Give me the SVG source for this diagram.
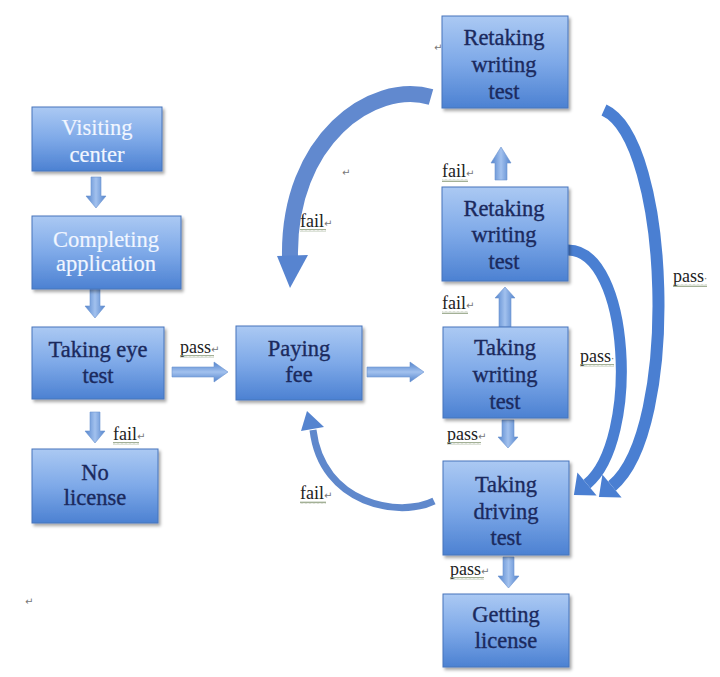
<svg xmlns="http://www.w3.org/2000/svg" width="720" height="677" viewBox="0 0 720 677">
<defs>
<linearGradient id="boxg" x1="0" y1="0" x2="0" y2="1">
<stop offset="0" stop-color="#abc9f3"/>
<stop offset="0.5" stop-color="#7ea9e8"/>
<stop offset="1" stop-color="#4c81d2"/>
</linearGradient>
<linearGradient id="vg" x1="0" y1="0" x2="1" y2="0">
<stop offset="0" stop-color="#5283cc"/>
<stop offset="0.5" stop-color="#a2c1ee"/>
<stop offset="1" stop-color="#5283cc"/>
</linearGradient>
<linearGradient id="hg" x1="0" y1="0" x2="0" y2="1">
<stop offset="0" stop-color="#5283cc"/>
<stop offset="0.5" stop-color="#a2c1ee"/>
<stop offset="1" stop-color="#5283cc"/>
</linearGradient>
<filter id="sh" x="-10%" y="-10%" width="125%" height="130%">
<feDropShadow dx="2" dy="2.5" stdDeviation="1.6" flood-color="#000" flood-opacity="0.35"/>
</filter>
<pattern id="sq" width="4" height="3" patternUnits="userSpaceOnUse">
<path d="M0,2.4 L1,0.6 L2,2.4 L3,0.6 L4,2.4" fill="none" stroke="#8a9a7a" stroke-width="0.8"/>
</pattern>
</defs>
<style>
.box{fill:url(#boxg);stroke:#4774bb;stroke-width:1;filter:url(#sh)}
.t{font-family:"Liberation Serif","Times New Roman",serif;font-size:22.5px;fill:#1b2a5e;stroke:#1b2a5e;stroke-width:0.35;text-anchor:middle}
.w{fill:#f3f7ff;stroke:#e6efff;stroke-width:0.2}
.lb{font-family:"Liberation Serif","Times New Roman",serif;font-size:18px;fill:#222}
.rt{font-family:"DejaVu Sans",sans-serif;font-size:10px;fill:#777;stroke:none}
.va{fill:url(#vg);stroke:#6b93d0;stroke-width:0.6}
.ha{fill:url(#hg);stroke:#6b93d0;stroke-width:0.6}
.cv{fill:none;stroke-linecap:butt}
.sqr{fill:url(#sq)}
</style>
<rect width="720" height="677" fill="#ffffff"/>

<g id="connectors">
<polygon class="va" points="91,177 101,177 101,196 106,196 96,208 86,196 91,196"/>
<polygon class="va" points="90,289 100,289 100,306 105,306 95,318 85,306 90,306"/>
<polygon class="va" points="90,412 100,412 100,431 105,431 95,443 85,431 90,431"/>
<polygon class="ha" points="172,367 214,367 214,362 228,372 214,382 214,377 172,377"/>
<polygon class="ha" points="367,367 410,367 410,362 424,372 410,382 410,377 367,377"/>
<polygon class="va" points="502,420 514,420 514,437 518,437 508,448 498,437 502,437"/>
<polygon class="va" points="503,557 514,557 514,576 519,576 508.5,588 498,576 503,576"/>
<polygon class="va" points="499,327 511,327 511,298 515,298 505,287 495,298 499,298"/>
<polygon class="va" points="495,180 507,180 507,163 511,163 501,147 491,163 495,163"/>
<g id="curve-fail-top">
<path class="cv" d="M431,97 C372,80 288,140 290,257" stroke="#6189cf" stroke-width="16"/>
<polygon points="277,256 308,255 290,288" fill="#5784d0"/>
</g>
<g id="curve-fail-driving">
<path class="cv" d="M434,501 C400,518 322,505 313,430" stroke="#5f88cc" stroke-width="7"/>
<polygon points="301,431 324,427 307,411" fill="#5584cf"/>
</g>
<g id="curve-pass-mid">
<path class="cv" d="M568,250 C630,250 640,440 587,484" stroke="#4a7fd2" stroke-width="11"/>
<polygon points="596.6,495.5 577.4,472.5 573.9,494.9" fill="#4a7fd2"/>
</g>
<g id="curve-pass-top">
<path class="cv" d="M604,110 C670,140 680,430 612,486" stroke="#4a7fd2" stroke-width="12"/>
<polygon points="621.6,497.5 602.4,474.5 598.9,496.9" fill="#4a7fd2"/>
</g>
</g>

<g id="labels">
<g><text class="lb" x="180" y="353">pass<tspan class="rt">↵</tspan></text><rect class="sqr" x="180" y="355" width="34" height="3"/></g>
<g><text class="lb" x="113" y="440">fail<tspan class="rt">↵</tspan></text><rect class="sqr" x="113" y="442" width="26" height="3"/></g>
<g><text class="lb" x="300" y="227">fail<tspan class="rt">↵</tspan></text><rect class="sqr" x="300" y="229" width="26" height="3"/></g>
<g><text class="lb" x="300" y="499">fail<tspan class="rt">↵</tspan></text><rect class="sqr" x="300" y="501" width="26" height="3"/></g>
<g><text class="lb" x="442" y="177">fail<tspan class="rt">↵</tspan></text><rect class="sqr" x="442" y="179" width="26" height="3"/></g>
<g><text class="lb" x="442" y="309">fail<tspan class="rt">↵</tspan></text><rect class="sqr" x="442" y="311" width="26" height="3"/></g>
<g><text class="lb" x="580" y="362">pass<tspan class="rt">·</tspan></text><rect class="sqr" x="580" y="364" width="34" height="3"/></g>
<g><text class="lb" x="673" y="282">pass<tspan class="rt">·</tspan></text><rect class="sqr" x="673" y="284" width="34" height="3"/></g>
<g><text class="lb" x="447" y="440">pass<tspan class="rt">↵</tspan></text><rect class="sqr" x="447" y="442" width="34" height="3"/></g>
<g><text class="lb" x="450" y="575">pass<tspan class="rt">↵</tspan></text><rect class="sqr" x="450" y="577" width="34" height="3"/></g>
<text class="rt" x="434" y="51">↵</text>
<text class="rt" x="342" y="176">↵</text>
<text class="rt" x="25" y="605">↵</text>
</g>

<g id="visiting"><rect class="box" x="32" y="107" width="130" height="64"/><text class="t w" x="97" y="135">Visiting</text><text class="t w" x="97" y="162">center</text></g>
<g id="completing"><rect class="box" x="32" y="216" width="149" height="73"/><text class="t w" x="106" y="247">Completing</text><text class="t w" x="106" y="271">application</text></g>
<g id="eye"><rect class="box" x="32" y="327" width="132" height="72"/><text class="t" x="98" y="357">Taking eye</text><text class="t" x="98" y="383">test</text></g>
<g id="nolicense"><rect class="box" x="32" y="449" width="126" height="74"/><text class="t" x="95" y="480">No</text><text class="t" x="95" y="505">license</text></g>
<g id="paying"><rect class="box" x="236" y="326" width="126" height="74"/><text class="t" x="299" y="356">Paying</text><text class="t" x="299" y="382">fee</text></g>
<g id="writing"><rect class="box" x="443" y="327" width="125" height="91"/><text class="t" x="505" y="355">Taking</text><text class="t" x="505" y="382">writing</text><text class="t" x="505" y="409">test</text></g>
<g id="driving"><rect class="box" x="443" y="461" width="126" height="94"/><text class="t" x="506" y="492">Taking</text><text class="t" x="506" y="519">driving</text><text class="t" x="506" y="545">test</text></g>
<g id="getting"><rect class="box" x="443" y="594" width="126" height="73"/><text class="t" x="506" y="622">Getting</text><text class="t" x="506" y="648">license</text></g>
<g id="retake1"><rect class="box" x="442" y="187" width="126" height="94"/><text class="t" x="504" y="216">Retaking</text><text class="t" x="504" y="242">writing</text><text class="t" x="504" y="269">test</text></g>
<g id="retake2"><rect class="box" x="442" y="16" width="126" height="92"/><text class="t" x="504" y="45">Retaking</text><text class="t" x="504" y="72">writing</text><text class="t" x="504" y="99">test</text></g>
</svg>
